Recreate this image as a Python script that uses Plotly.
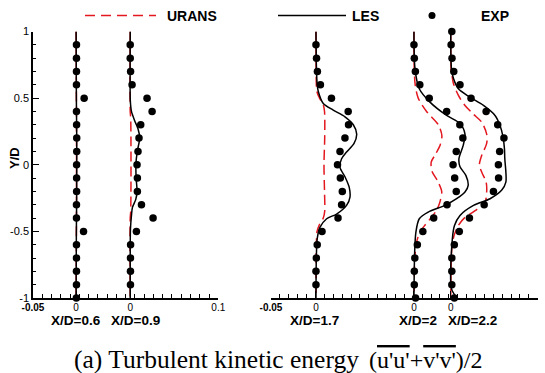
import plotly.graph_objects as go

W, H = 545, 373
RED = "#e3171f"

# ---------------- data ----------------
# baseline (zero) position of each profile on its panel's x axis
left_profiles = ["X/D=0.6", "X/D=0.9"]
left_offsets = [-0.0151, 0.0287]
right_profiles = ["X/D=1.7", "X/D=2", "X/D=2.2"]
right_offsets = [-0.0247, 0.0304, 0.0511]

left_ticktext = ["<b>-0.05</b>", "0", "0", "0.1"]
right_ticktext = ["<b>-0.05</b>", "0", "0", "0", "0.1"]
y_tickvals = [-1, -0.5, 0, 0.5, 1]
y_ticktext = ["-1", "-0.5", "0", "0.5", "1"]

# EXP (dots)
exp_y_06 = [0.9, 0.8, 0.7, 0.6, 0.5, 0.4, 0.3, 0.2, 0.1, 0.0, -0.1, -0.2, -0.3, -0.4, -0.5, -0.6, -0.7, -0.8, -0.9, -1.0]
exp_x_06 = [0.0003, 0.0003, 0.0003, 0.0003, 0.0065, 0.0003, 0.0004, 0.0005, 0.0005, 0.0004, 0.0004, 0.0004, 0.0003, 0.0003, 0.006, 0.0003, 0.0003, 0.0003, 0.0003, 0.0002]
exp_y_09 = [0.9, 0.8, 0.7, 0.6, 0.5, 0.4, 0.3, 0.2, 0.1, 0.0, -0.1, -0.2, -0.3, -0.4, -0.5, -0.6, -0.7, -0.8, -0.9]
exp_x_09 = [0.0, 0.0, 0.0003, 0.0015, 0.0136, 0.0177, 0.0085, 0.0071, 0.0063, 0.0055, 0.0058, 0.0058, 0.0091, 0.0185, 0.005, 0.0003, 0.0002, 0.0002, 0.0002]
exp_y_17 = [0.9, 0.8, 0.7, 0.6, 0.5, 0.4, 0.3, 0.2, 0.1, 0.0, -0.1, -0.2, -0.3, -0.4, -0.5, -0.6, -0.7, -0.8, -0.9]
exp_x_17 = [0.0, 0.0003, 0.0008, 0.0025, 0.0087, 0.0181, 0.0183, 0.0163, 0.0135, 0.0121, 0.0137, 0.0148, 0.0144, 0.0124, 0.0034, 0.0007, 0.0002, 0.0, 0.0]
exp_y_20 = [0.9, 0.8, 0.7, 0.6, 0.5, 0.4, 0.3, 0.2, 0.1, 0.0, -0.1, -0.2, -0.3, -0.4, -0.5, -0.6, -0.7, -0.8, -0.9, -1.0]
exp_x_20 = [0.0, 0.0002, 0.0008, 0.0033, 0.0086, 0.0184, 0.0258, 0.0275, 0.0238, 0.022, 0.0229, 0.0238, 0.0186, 0.0111, 0.005, 0.0019, 0.0005, 0.0002, 0.0002, 0.0009]
exp_y_22 = [1.0, 0.9, 0.8, 0.7, 0.6, 0.5, 0.4, 0.3, 0.2, 0.1, 0.0, -0.1, -0.2, -0.3, -0.4, -0.5, -0.6, -0.7, -0.8, -0.9, -1.0]
exp_x_22 = [0.0006, 0.0002, 0.0007, 0.0017, 0.0052, 0.0114, 0.0199, 0.0264, 0.0299, 0.0275, 0.0268, 0.0269, 0.024, 0.0188, 0.0105, 0.0048, 0.002, 0.0006, 0.0006, 0.0006, 0.002]

# LES (solid black)
les_y_06 = [1.0, 0.5, 0.2, 0.0, -0.3, -0.5, -1.0]
les_x_06 = [0.0, 0.0002, 0.0005, 0.0005, 0.0004, 0.0002, 0.0]
les_y_09 = [1.0, 0.5, 0.45, 0.4, 0.33, 0.27, 0.2, 0.1, 0.0, -0.1, -0.2, -0.26, -0.32, -0.38, -0.48, -0.6, -1.0]
les_x_09 = [0.0, 0.0, 0.0003, 0.001, 0.0036, 0.0063, 0.0077, 0.0057, 0.0046, 0.0048, 0.0055, 0.0045, 0.0018, 0.001, 0.0002, 0.0, 0.0]
les_y_17 = [1.0, 0.7, 0.6, 0.55, 0.46, 0.41, 0.36, 0.3, 0.23, 0.16, 0.095, 0.045, -0.02, -0.09, -0.17, -0.245, -0.305, -0.37, -0.405, -0.47, -0.555, -0.7, -1.0]
les_x_17 = [0.0, 0.0003, 0.0007, 0.0013, 0.0041, 0.0097, 0.0163, 0.021, 0.0229, 0.0214, 0.0172, 0.0144, 0.0135, 0.0163, 0.0187, 0.0191, 0.0172, 0.0116, 0.006, 0.0022, 0.0007, 0.0002, 0.0]
les_y_20 = [1.0, 0.72, 0.57, 0.47, 0.37, 0.31, 0.23, 0.145, 0.045, -0.015, -0.08, -0.155, -0.205, -0.255, -0.305, -0.355, -0.405, -0.505, -0.655, -1.0]
les_x_20 = [0.0, 0.0006, 0.003, 0.009, 0.0184, 0.0259, 0.0287, 0.0277, 0.0253, 0.0259, 0.0292, 0.0305, 0.0287, 0.024, 0.0174, 0.008, 0.003, 0.0011, 0.0004, 0.0]
les_y_22 = [1.0, 0.72, 0.65, 0.57, 0.51, 0.445, 0.37, 0.295, 0.21, 0.12, 0.045, -0.055, -0.13, -0.19, -0.255, -0.305, -0.38, -0.455, -0.555, -0.93, -1.0]
les_x_22 = [0.0, 0.0004, 0.0015, 0.0043, 0.0104, 0.0184, 0.0249, 0.0277, 0.0294, 0.0302, 0.0304, 0.031, 0.031, 0.0287, 0.0221, 0.0128, 0.0052, 0.0021, 0.0009, 0.0004, 0.0035]

# URANS (red dashed)
ur_y_06 = [1.0, 0.3, -0.3, -1.0]
ur_x_06 = [0.0, 0.0003, 0.0003, 0.0]
ur_y_09 = [1.0, 0.4, 0.35, -0.35, -0.4, -1.0]
ur_x_09 = [0.0, 0.0, 0.0004, 0.0004, 0.0, 0.0]
ur_y_17 = [1.0, 0.6, 0.55, 0.5, 0.45, 0.4, 0.2, 0.0, -0.2, -0.35, -0.4, -0.45, -0.5, -0.6, -1.0]
ur_x_17 = [0.0, 0.0002, 0.0005, 0.002, 0.0041, 0.0048, 0.0049, 0.0045, 0.0048, 0.0049, 0.0041, 0.0019, 0.0006, 0.0002, 0.0]
ur_y_20 = [1.0, 0.7, 0.6, 0.5, 0.4, 0.3, 0.22, 0.15, 0.08, 0.02, -0.05, -0.12, -0.2, -0.28, -0.34, -0.4, -0.45, -0.5, -0.58, -0.7, -1.0]
ur_x_20 = [0.0, 0.0002, 0.0007, 0.0024, 0.0071, 0.0137, 0.0157, 0.0148, 0.0122, 0.0097, 0.0102, 0.0132, 0.0156, 0.0146, 0.0128, 0.0095, 0.0064, 0.0036, 0.0015, 0.0005, 0.0]
ur_y_22 = [1.0, 0.72, 0.68, 0.61, 0.52, 0.445, 0.38, 0.32, 0.23, 0.16, 0.07, 0.0, -0.055, -0.13, -0.205, -0.28, -0.345, -0.395, -0.455, -0.53, -0.63, -1.0]
ur_x_22 = [0.0, 0.0002, 0.0006, 0.0015, 0.0043, 0.008, 0.0127, 0.0174, 0.0202, 0.0202, 0.0174, 0.0161, 0.0174, 0.0199, 0.0202, 0.0193, 0.0137, 0.008, 0.0043, 0.0019, 0.0006, 0.0]

profiles = [
    ("x", left_offsets[0], ur_y_06, ur_x_06, les_y_06, les_x_06, exp_y_06, exp_x_06),
    ("x", left_offsets[1], ur_y_09, ur_x_09, les_y_09, les_x_09, exp_y_09, exp_x_09),
    ("x2", right_offsets[0], ur_y_17, ur_x_17, les_y_17, les_x_17, exp_y_17, exp_x_17),
    ("x2", right_offsets[1], ur_y_20, ur_x_20, les_y_20, les_x_20, exp_y_20, exp_x_20),
    ("x2", right_offsets[2], ur_y_22, ur_x_22, les_y_22, les_x_22, exp_y_22, exp_x_22),
]

fig = go.Figure()
for xa, off, uy, ux, ly, lx, ey, ex in profiles:
    fig.add_trace(go.Scatter(x=[off + v for v in ux], y=uy, mode="lines", xaxis=xa, yaxis="y",
                             line=dict(color=RED, width=1.5, dash="10px,5px", shape="spline", smoothing=0.8),
                             cliponaxis=False, showlegend=False, hoverinfo="skip"))
for xa, off, uy, ux, ly, lx, ey, ex in profiles:
    fig.add_trace(go.Scatter(x=[off + v for v in lx], y=ly, mode="lines", xaxis=xa, yaxis="y",
                             line=dict(color="black", width=1.5, shape="spline", smoothing=0.8),
                             cliponaxis=False, showlegend=False, hoverinfo="skip"))
for xa, off, uy, ux, ly, lx, ey, ex in profiles:
    fig.add_trace(go.Scatter(x=[off + v for v in ex], y=ey, mode="markers", xaxis=xa, yaxis="y",
                             marker=dict(color="black", size=7.5), cliponaxis=False,
                             showlegend=False, hoverinfo="skip"))


def px(xp):
    return xp / W


def py(yp):
    return 1 - yp / H


xtickfont = dict(family="Arial", size=10, color="black")
ytickfont = dict(family="Arial", size=11, color="black")
common_x = dict(range=[-0.05, 0.1], anchor="y", showline=True, linecolor="black", linewidth=1.5,
                ticks="inside", ticklen=7, tickwidth=1.2, tickcolor="black", tickmode="array",
                tickfont=xtickfont, showgrid=False, zeroline=False, fixedrange=True, automargin=False,
                ticklabelstandoff=-1)

fig.update_layout(
    template="none",
    width=W, height=H, margin=dict(l=0, r=0, t=0, b=0, autoexpand=False),
    paper_bgcolor="white", plot_bgcolor="white", showlegend=False,
    xaxis=dict(domain=[px(33), px(218.3)], tickvals=[-0.05] + left_offsets + [0.1], ticktext=left_ticktext,
               minor=dict(ticks="inside", ticklen=4, tickwidth=1, tickcolor="black", tick0=-0.05, dtick=0.0075,
                          showgrid=False),
               **common_x),
    xaxis2=dict(domain=[px(271), px(537.7)], tickvals=[-0.05] + right_offsets + [0.1], ticktext=right_ticktext,
                minor=dict(ticks="inside", ticklen=4, tickwidth=1, tickcolor="black", tick0=-0.05, dtick=0.005,
                           showgrid=False),
                **common_x),
    yaxis=dict(domain=[py(298), py(31.5)], range=[-1, 1], showline=True, linecolor="black", linewidth=1.5,
               ticks="inside", ticklen=6, tickwidth=1.2, tickcolor="black", tickmode="array",
               tickvals=y_tickvals, ticktext=y_ticktext, tickfont=ytickfont, showgrid=False, zeroline=False,
               minor=dict(ticks="inside", ticklen=3, tickwidth=1, tickcolor="black", tick0=-1, dtick=0.1,
                          showgrid=False),
               fixedrange=True, automargin=False),
)

# legend drawn at top
fig.add_shape(type="line", xref="paper", yref="paper", x0=px(85), x1=px(156), y0=py(15.5), y1=py(15.5),
              line=dict(color=RED, width=1.5, dash="10px,6px"))
fig.add_shape(type="line", xref="paper", yref="paper", x0=px(278), x1=px(346), y0=py(15.5), y1=py(15.5),
              line=dict(color="black", width=1.5))
fig.add_shape(type="circle", xref="paper", yref="paper", x0=px(428.5), x1=px(435.5), y0=py(19), y1=py(12),
              fillcolor="black", line=dict(color="black", width=0))
legfont = dict(family="Arial", size=14, color="black")
for txt, xp in [("URANS", 165), ("LES", 350), ("EXP", 479)]:
    fig.add_annotation(text="<b>%s</b>" % txt, xref="paper", yref="paper", x=px(xp), y=py(15.5),
                       xanchor="left", yanchor="middle", showarrow=False, font=legfont)

# axis title
fig.add_annotation(text="<b>Y/D</b>", xref="paper", yref="paper", x=px(14), y=py(158), textangle=-90,
                   xanchor="center", yanchor="middle", showarrow=False,
                   font=dict(family="Arial", size=13, color="black"))

# profile labels under the axes
lab_pos = [(left_profiles[0], 75.5), (left_profiles[1], 135), (right_profiles[0], 314.5),
           (right_profiles[1], 418), (right_profiles[2], 472)]
for txt, xp in lab_pos:
    fig.add_annotation(text="<b>%s</b>" % txt, xref="paper", yref="paper", x=px(xp), y=py(320),
                       xanchor="center", yanchor="middle", showarrow=False,
                       font=dict(family="Arial", size=13.5, color="black"))

# caption (text part and formula part)
fig.add_annotation(text="(a) Turbulent kinetic energy", xref="paper", yref="paper", x=px(361), y=py(359),
                   xanchor="right", yanchor="middle", showarrow=False,
                   font=dict(family="Liberation Serif", size=25.5, color="black"))
formula = ("(<span style='text-decoration:overline'>u'u'</span>+"
           "<span style='text-decoration:overline'>v'v'</span>)/2")
fig.add_annotation(text=formula, xref="paper", yref="paper", x=px(367), y=py(360),
                   xanchor="left", yanchor="middle", showarrow=False,
                   font=dict(family="Liberation Serif", size=24, color="black"))

fig.write_html("out.html")
